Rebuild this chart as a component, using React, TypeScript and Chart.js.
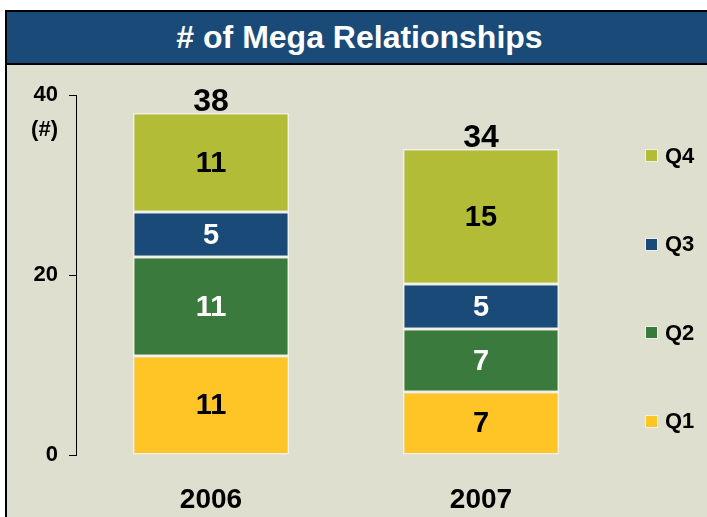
import React, { useEffect, useRef } from "react";
import { Chart, registerables } from "chart.js";

Chart.register(...registerables);

const titleText = "# of Mega Relationships";
const unitLabel = "(#)";
const years = ["2006", "2007"];
const seriesNames = ["Q1", "Q2", "Q3", "Q4"];
const q1Values = [11, 7];
const q2Values = [11, 7];
const q3Values = [5, 5];
const q4Values = [11, 15];
const yTickValues = [0, 20, 40];
const seriesColors = ["#FFC425", "#3A7A3C", "#1A4A78", "#B2BC37"];
const labelColors = ["#000000", "#FFFFFF", "#FFFFFF", "#000000"];

const FONT = "'Liberation Sans', Arial, Helvetica, sans-serif";
const BEIGE = "#DFDFCF";
const BLUE = "#1A4A78";

const seriesValues = [q1Values, q2Values, q3Values, q4Values];

const labelPlugin = {
  id: "segLabels",
  afterDatasetsDraw(chart: any) {
    const ctx = chart.ctx;
    ctx.save();
    ctx.textAlign = "center";
    chart.data.datasets.forEach((ds: any, di: number) => {
      const meta = chart.getDatasetMeta(di);
      meta.data.forEach((el: any, i: number) => {
        const { x, y, base } = el.getProps(["x", "y", "base"], true);
        ctx.fillStyle = labelColors[di];
        ctx.font = `bold 29px ${FONT}`;
        ctx.textBaseline = "middle";
        ctx.fillText(String(ds.data[i]), x, (y + base) / 2 + 1);
      });
    });
    const last = chart.data.datasets.length - 1;
    const topMeta = chart.getDatasetMeta(last);
    topMeta.data.forEach((el: any, i: number) => {
      const total = chart.data.datasets.reduce((s: number, d: any) => s + d.data[i], 0);
      ctx.font = `bold 32px ${FONT}`;
      ctx.textBaseline = "alphabetic";
      ctx.fillStyle = "#000000";
      ctx.fillText(String(total), el.x, el.y - 2);
    });
    const ys = chart.scales.y;
    ctx.font = `bold 22px ${FONT}`;
    ctx.textAlign = "right";
    ctx.textBaseline = "middle";
    ctx.fillStyle = "#000000";
    ctx.fillText(unitLabel, ys.right - 18, ys.getPixelForValue(40) + 35);
    ctx.restore();
  },
};

export default function App() {
  const canvasRef = useRef<HTMLCanvasElement | null>(null);

  useEffect(() => {
    if (!canvasRef.current) return;
    const chart = new Chart(canvasRef.current, {
      type: "bar",
      data: {
        labels: years,
        datasets: seriesNames.map((name, i) => ({
          label: name,
          data: seriesValues[i],
          backgroundColor: seriesColors[i],
          borderColor: "#F1F1EA",
          borderWidth: 1.5,
          borderSkipped: false,
          barPercentage: 0.578,
          categoryPercentage: 1,
        })),
      },
      options: {
        responsive: false,
        animation: false,
        layout: { padding: { left: 0, right: 91, top: 29, bottom: 0 } },
        plugins: {
          legend: { display: false },
          tooltip: { enabled: false },
          title: { display: false },
        },
        scales: {
          x: {
            stacked: true,
            grid: { display: false, drawTicks: false },
            border: { display: false },
            ticks: {
              color: "#000000",
              font: { family: FONT, size: 28, weight: "bold" },
              padding: 28,
            },
            afterFit: (scale: any) => {
              scale.height = 62;
            },
          },
          y: {
            stacked: true,
            min: 0,
            max: 40,
            afterBuildTicks: (scale: any) => {
              scale.ticks = yTickValues.map((v) => ({ value: v }));
            },
            grid: {
              drawOnChartArea: false,
              drawTicks: true,
              tickLength: 7,
              color: "#000000",
              lineWidth: 1,
            },
            border: { display: true, color: "#000000", width: 1 },
            ticks: {
              color: "#000000",
              font: { family: FONT, size: 22, weight: "bold" },
              padding: 11,
            },
            afterFit: (scale: any) => {
              scale.width = 68;
            },
          },
        },
      },
      plugins: [labelPlugin],
    });
    return () => chart.destroy();
  }, []);

  const legendOrder = [3, 2, 1, 0];

  return (
    <div
      style={{
        position: "fixed",
        left: 0,
        top: 0,
        width: 707,
        height: 517,
        background: "#FFFFFF",
        overflow: "hidden",
        fontFamily: FONT,
      }}
    >
      <div
        style={{
          position: "absolute",
          left: 5,
          top: 10,
          width: 720,
          height: 520,
          borderLeft: "2px solid #000",
          borderTop: "2px solid #000",
          background: BEIGE,
        }}
      >
        <div
          style={{
            width: 705,
            height: 51,
            background: BLUE,
            borderBottom: "2px solid #000",
            color: "#FFFFFF",
            fontWeight: "bold",
            fontSize: 32,
            lineHeight: "51px",
            textAlign: "center",
            whiteSpace: "nowrap",
          }}
        >
          {titleText}
        </div>
      </div>
      <canvas
        ref={canvasRef}
        width={699}
        height={451}
        style={{ position: "absolute", left: 8, top: 66, width: 699, height: 451 }}
      />
      {legendOrder.map((si, k) => (
        <div
          key={seriesNames[si]}
          style={{
            position: "absolute",
            left: 645,
            top: 155.5 + k * 88.6 - 12,
            height: 24,
            display: "flex",
            alignItems: "center",
            fontWeight: "bold",
            fontSize: 22,
            color: "#000",
          }}
        >
          <span
            style={{
              display: "inline-block",
              width: 11,
              height: 11,
              background: seriesColors[si],
              border: "1px solid #F1F1EA",
              marginRight: 7,
            }}
          />
          <span>{seriesNames[si]}</span>
        </div>
      ))}
    </div>
  );
}
